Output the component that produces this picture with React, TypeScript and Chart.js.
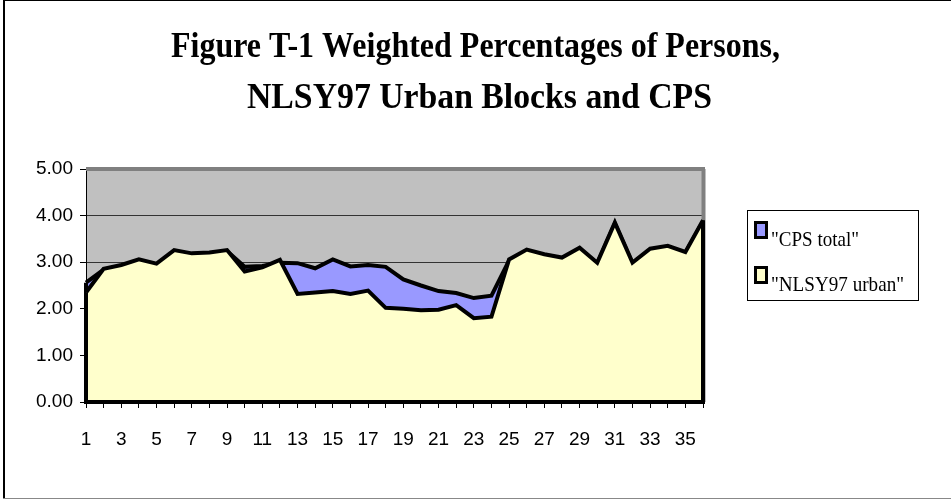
import React, { useEffect, useRef } from "react";
import { Chart, registerables } from "chart.js";

Chart.register(...registerables);

const categories = [
  "1", "2", "3", "4", "5", "6", "7", "8", "9", "10", "11", "12",
  "13", "14", "15", "16", "17", "18", "19", "20", "21", "22", "23", "24",
  "25", "26", "27", "28", "29", "30", "31", "32", "33", "34", "35", "36",
];

const cpsTotal = [
  2.56, 2.84, 2.92, 3.04, 2.95, 3.24, 3.17, 3.19, 3.24, 2.90, 2.92, 2.99,
  2.98, 2.87, 3.06, 2.91, 2.94, 2.90, 2.63, 2.50, 2.38, 2.34, 2.23, 2.28,
  3.04, 3.25, 3.15, 3.08, 3.29, 2.97, 3.83, 2.97, 3.27, 3.33, 3.20, 3.88,
];

const nlsy97Urban = [
  2.35, 2.86, 2.94, 3.06, 2.97, 3.26, 3.19, 3.21, 3.26, 2.80, 2.89, 3.05,
  2.32, 2.35, 2.38, 2.32, 2.39, 2.02, 2.00, 1.97, 1.98, 2.08, 1.80, 1.83,
  3.06, 3.27, 3.17, 3.10, 3.31, 2.99, 3.85, 2.99, 3.29, 3.35, 3.22, 3.90,
];

const yTicks = [0, 1, 2, 3, 4, 5];

const titleLines = [
  "Figure T-1 Weighted Percentages of Persons,",
  "NLSY97 Urban Blocks and CPS",
];

const seriesNames = ['"CPS total"', '"NLSY97 urban"'];
const seriesColors = ["#9999FF", "#FFFFCC"];

const backgroundPlugin = {
  id: "bgPlugin",
  beforeDraw(chart: any) {
    const { ctx, chartArea, width, height } = chart;
    ctx.save();
    ctx.fillStyle = "#ffffff";
    ctx.fillRect(0, 0, width, height);
    ctx.fillStyle = "#C0C0C0";
    ctx.fillRect(chartArea.left, chartArea.top, chartArea.right - chartArea.left, chartArea.bottom - chartArea.top);
    // outer border
    ctx.strokeStyle = "#000";
    ctx.lineWidth = 1;
    ctx.beginPath();
    ctx.moveTo(3, 0.5);
    ctx.lineTo(width, 0.5);
    ctx.stroke();
    ctx.lineWidth = 2;
    ctx.beginPath();
    ctx.moveTo(4, 0);
    ctx.lineTo(4, height - 2);
    ctx.stroke();
    ctx.strokeStyle = "#888";
    ctx.lineWidth = 1;
    ctx.beginPath();
    ctx.moveTo(3, height - 1.5);
    ctx.lineTo(width, height - 1.5);
    ctx.stroke();
    ctx.restore();
  },
  beforeDatasetsDraw(chart: any) {
    const { ctx, chartArea } = chart;
    ctx.save();
    ctx.strokeStyle = "#808080";
    ctx.lineWidth = 4;
    ctx.beginPath();
    ctx.moveTo(chartArea.left, chartArea.top);
    ctx.lineTo(chartArea.right + 2, chartArea.top);
    ctx.moveTo(chartArea.right + 0.5, chartArea.top);
    ctx.lineTo(chartArea.right + 0.5, chartArea.bottom);
    ctx.stroke();
    ctx.restore();
  },
  afterDatasetDraw(chart: any, args: any) {
    const { ctx, chartArea } = chart;
    const pts = args.meta.data;
    if (!pts || !pts.length) return;
    const first = pts[0];
    const last = pts[pts.length - 1];
    const bottom = chartArea.bottom;
    ctx.save();
    ctx.strokeStyle = "#000";
    ctx.lineWidth = 4;
    ctx.lineJoin = "miter";
    ctx.beginPath();
    ctx.moveTo(first.x, first.y);
    ctx.lineTo(first.x, bottom);
    ctx.lineTo(last.x, bottom);
    ctx.lineTo(last.x, last.y);
    ctx.stroke();
    ctx.restore();
  },
  afterDraw(chart: any) {
    const { ctx } = chart;
    ctx.save();
    // Title
    ctx.fillStyle = "#000";
    ctx.textAlign = "center";
    ctx.textBaseline = "alphabetic";
    ctx.font = 'bold 36px "Liberation Serif", "Times New Roman", serif';
    ctx.fillText(titleLines[0], 475.5, 57, 609);
    ctx.fillText(titleLines[1], 479.5, 108, 465);

    // Legend
    ctx.strokeStyle = "#000";
    ctx.lineWidth = 1;
    ctx.fillStyle = "#fff";
    ctx.fillRect(747, 210, 171, 90);
    ctx.strokeRect(747.5, 210.5, 171, 90);
    const rows = [
      { my: 221, ty: 246, w: 88 },
      { my: 266, ty: 291, w: 133 },
    ];
    rows.forEach((r, i) => {
      ctx.fillStyle = "#000";
      ctx.fillRect(754, r.my, 14, 18);
      ctx.fillStyle = seriesColors[i];
      ctx.fillRect(757, r.my + 3, 8, 12);
      ctx.fillStyle = "#000";
      ctx.textAlign = "left";
      ctx.font = '22px "Liberation Serif", "Times New Roman", serif';
      ctx.fillText(seriesNames[i], 771, r.ty, r.w);
    });
    ctx.restore();
  },
};

export default function App() {
  const canvasRef = useRef<HTMLCanvasElement | null>(null);

  useEffect(() => {
    if (!canvasRef.current) return;
    const chart = new Chart(canvasRef.current, {
      type: "line",
      data: {
        labels: categories,
        datasets: [
          {
            label: seriesNames[0],
            data: cpsTotal,
            backgroundColor: seriesColors[0],
            borderColor: "#000",
            borderWidth: 4,
            pointRadius: 0,
            fill: "origin",
            tension: 0,
            order: 2,
          },
          {
            label: seriesNames[1],
            data: nlsy97Urban,
            backgroundColor: seriesColors[1],
            borderColor: "#000",
            borderWidth: 4,
            pointRadius: 0,
            fill: "origin",
            tension: 0,
            order: 1,
          },
        ],
      },
      options: {
        responsive: false,
        animation: false,
        layout: { padding: { left: 0, top: 169, right: 248, bottom: 0 } },
        plugins: {
          legend: { display: false },
          title: { display: false },
          tooltip: { enabled: false },
        },
        scales: {
          x: {
            type: "category",
            offset: false,
            afterFit: (s: any) => {
              s.height = 98;
            },
            grid: {
              drawOnChartArea: false,
              color: "#000",
              tickLength: 6,
              offset: false,
            },
            border: { display: true, color: "#000", width: 1 },
            ticks: {
              autoSkip: false,
              maxRotation: 0,
              minRotation: 0,
              padding: 20,
              color: "#000",
              font: { family: '"Liberation Sans", Arial, sans-serif', size: 19 },
              callback: (_v: any, i: number) => (i % 2 === 0 ? categories[i] : ""),
            },
          },
          y: {
            min: yTicks[0],
            max: yTicks[yTicks.length - 1],
            afterFit: (s: any) => {
              s.width = 86;
            },
            afterBuildTicks: (s: any) => {
              s.ticks = yTicks.map((v) => ({ value: v }));
            },
            grid: {
              color: (c: any) =>
                c.tick && (c.tick.value === 0 || c.tick.value === 5) ? "rgba(0,0,0,0)" : "#333333",
              tickColor: "#000",
              tickLength: 6,
              lineWidth: 1,
            },
            border: { display: true, color: "#000", width: 1 },
            ticks: {
              padding: 7,
              color: "#000",
              font: { family: '"Liberation Sans", Arial, sans-serif', size: 19 },
              callback: (v: any) => Number(v).toFixed(2),
            },
          },
        },
      },
      plugins: [backgroundPlugin],
    } as any);
    return () => chart.destroy();
  }, []);

  return (
    <div style={{ position: "fixed", left: 0, top: 0, width: 951, height: 500, background: "#fff" }}>
      <canvas ref={canvasRef} width={951} height={500} style={{ display: "block" }} />
    </div>
  );
}
